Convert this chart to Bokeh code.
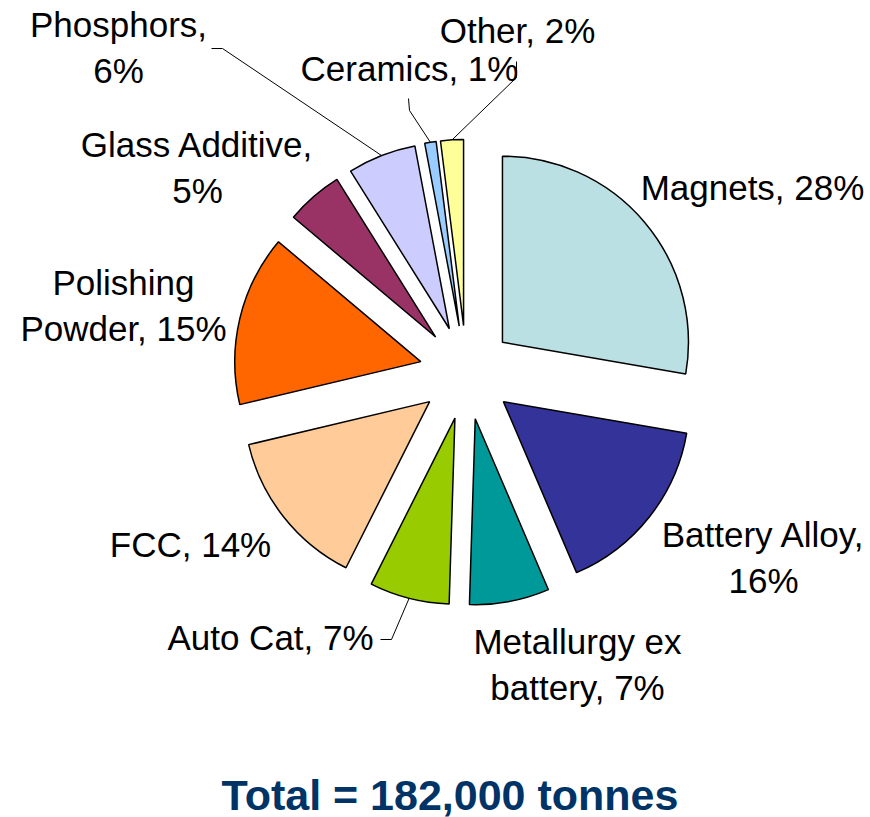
import numpy as np
from bokeh.plotting import figure
from bokeh.models import Range1d, ColumnDataSource
from bokeh.embed import file_html
from bokeh.resources import INLINE
from bokeh.core.properties import value

# ---------------- data ----------------
categories = ["Magnets", "Battery Alloy", "Metallurgy ex battery", "Auto Cat", "FCC",
              "Polishing Powder", "Glass Additive", "Phosphors", "Ceramics", "Other"]
shares = [28, 16, 7, 7, 14, 15, 5, 6, 1, 2]
colors = ["#BBE0E3", "#333399", "#009999", "#99CC00", "#FFCC99",
          "#FF6600", "#993366", "#CCCCFF", "#99CCFF", "#FFFF99"]
title_text = "Total = 182,000 tonnes"

# label wrapping: number of words on first line (0 = single line)
wrap_words = [0, 2, 2, 0, 0, 1, 2, 1, 0, 0]

# ---------------- layout (screen pixels, y down) ----------------
W, H = 870, 817
CX, CY = 466, 372          # pie centre before explosion
R = 186                    # radius
EXPLODE = 47               # explosion distance
LINE_GAP = 46
FONT = "Liberation Sans"
SHIFT_LABEL = 13           # svg baseline correction
SHIFT_TITLE = 16

# label anchor: centre x, first-line baseline y
label_pos = [(752, 200), (763, 547), (577, 654), (270, 650), (190, 557),
             (123, 295), (197, 157), (118, 37), (409, 81), (517, 43)]
# leader lines: label side points (two points) per category index
leaders = {
    7: [(211, 48), (222, 48)],
    8: [(408, 98), (409, 110)],
    9: [(516, 61), (516, 77)],
    3: [(380, 639), (391, 639)],
}


def fy(y):
    return H - y


vals = np.array(shares, dtype=float)
frac = vals / vals.sum()
theta_end = np.cumsum(frac) * 2 * np.pi        # clockwise from 12 o'clock
theta_start = theta_end - frac * 2 * np.pi
theta_mid = (theta_start + theta_end) / 2

# exploded centres in data coords (y up)
vx = CX + EXPLODE * np.sin(theta_mid)
vy = fy(CY) + EXPLODE * np.cos(theta_mid)

src = ColumnDataSource(dict(
    x=vx, y=vy,
    start=np.pi / 2 - theta_end,
    end=np.pi / 2 - theta_start,
    color=colors,
    cat=categories,
))

p = figure(width=W, height=H, output_backend="svg", toolbar_location=None,
           x_range=Range1d(0, W), y_range=Range1d(0, H),
           x_axis_type=None, y_axis_type=None, min_border=0,
           outline_line_color=None, background_fill_color="white",
           border_fill_color="white")
p.xgrid.visible = False
p.ygrid.visible = False

p.wedge(x="x", y="y", radius=R, start_angle="start", end_angle="end",
        fill_color="color", line_color="black", line_width=1.5, source=src)

# leader lines
lxs, lys = [], []
for i, pts in leaders.items():
    ax = vx[i] + R * np.sin(theta_mid[i])
    ay = vy[i] + R * np.cos(theta_mid[i])
    lxs.append([pts[0][0], pts[1][0], ax])
    lys.append([fy(pts[0][1]), fy(pts[1][1]), ay])
p.multi_line(xs=lxs, ys=lys, line_color="black", line_width=1)

# labels
tx, ty, tt = [], [], []
for i, (c, s) in enumerate(zip(categories, shares)):
    words = f"{c}, {s}%".split(" ")
    n = wrap_words[i]
    lines = [" ".join(words)] if n == 0 else [" ".join(words[:n]), " ".join(words[n:])]
    x0, y0 = label_pos[i]
    for k, ln in enumerate(lines):
        tx.append(x0)
        ty.append(fy(y0 + k * LINE_GAP - SHIFT_LABEL))
        tt.append(ln)
p.text(x=tx, y=ty, text=tt, text_align="center", text_baseline="alphabetic",
       text_font=value(FONT), text_font_size=value("35px"), text_color="black")

# total
p.text(x=[449.5], y=[fy(810 - SHIFT_TITLE)], text=[title_text], text_align="center",
       text_baseline="alphabetic", text_font=value(FONT), text_font_size=value("43px"),
       text_font_style="bold", text_color="#003366")

open("out.html", "w").write(file_html(p, INLINE))
